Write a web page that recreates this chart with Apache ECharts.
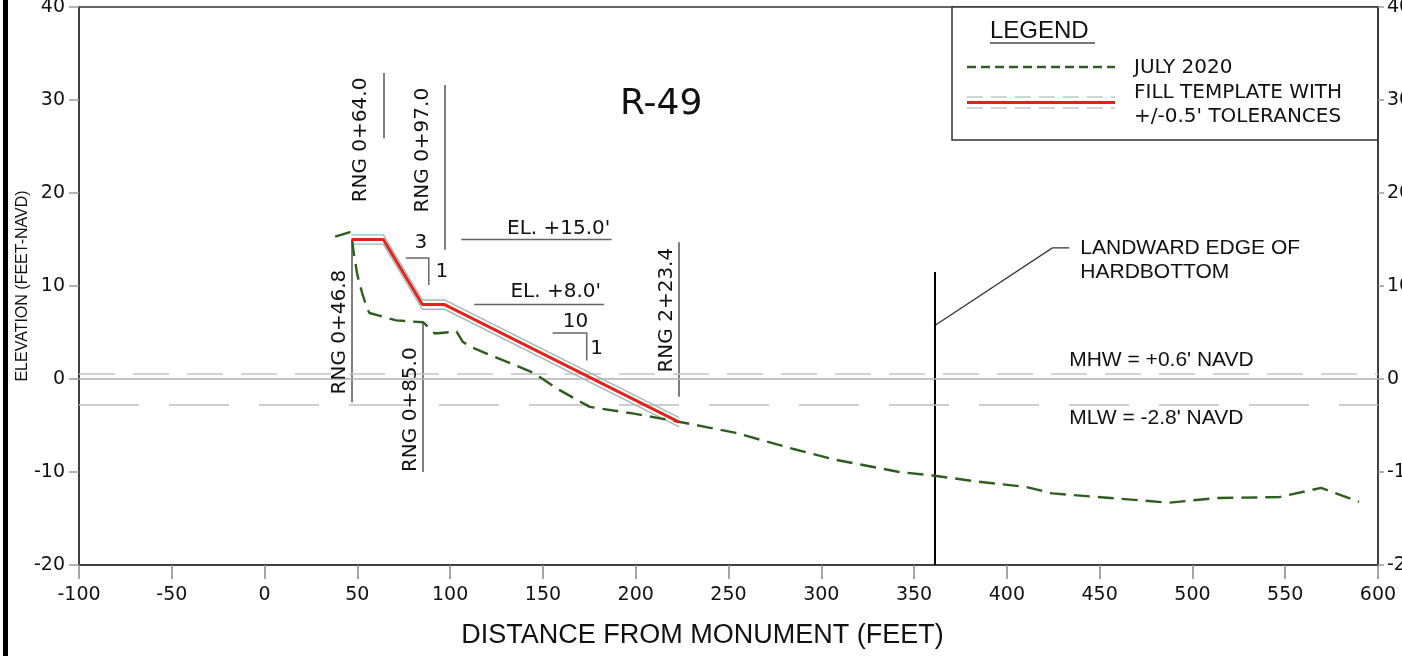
<!DOCTYPE html>
<html><head><meta charset="utf-8">
<script src="https://cdn.jsdelivr.net/npm/echarts@6/dist/echarts.min.js"></script>
<style>html,body{margin:0;padding:0;background:#fff}#c{width:1402px;height:656px}</style>
</head><body><div id="c"></div>
<script>
// ---------- DATA ----------
const xTickValues = [-100,-50,0,50,100,150,200,250,300,350,400,450,500,550,600];
const yTickValues = [-20,-10,0,10,20,30,40];
const profileX = [38,46,47.3,48,50,52.5,55,56.5,71,85.5,91.7,103.5,106.8,110.5,121.3,144.5,159,175.2,198.3,226,254,284.5,308,342,361,383,410,424.5,487.5,512.8,546.7,569.4,589.8];
const profileY = [15.3,15.8,14.8,13.6,11.2,9.3,7.7,7.1,6.3,6.1,4.9,5.1,4.0,3.5,2.6,0.7,-1.2,-3.0,-3.7,-4.7,-5.8,-7.5,-8.7,-10.0,-10.4,-11.0,-11.6,-12.3,-13.3,-12.8,-12.7,-11.7,-13.2];
const templateX = [46.8,64,85,97,223.4];
const templateY = [15,15,8,8,-4.64];
const templateUpperY = [15.5,15.5,8.5,8.5,-4.14];
const templateLowerY = [14.5,14.5,7.5,7.5,-5.14];
const rangeStations = [46.8,64.0,85.0,97.0,223.4];
const rangeLabels = ['RNG 0+46.8','RNG 0+64.0','RNG 0+85.0','RNG 0+97.0','RNG 2+23.4'];
const rangeTop = [15,32.9,6.1,31.6,14.7];
const rangeBottom = [-2.5,25.9,-10,13.9,-1.9];
const elevLabels = ["EL. +15.0'","EL. +8.0'"];
const elevValues = [15,8];
const mhwValue = 0.6;
const mlwValue = -2.8;
const hardbottomX = 361;
const legendNames = ['JULY 2020',"FILL TEMPLATE WITH\n+/-0.5' TOLERANCES"];

// ---------- LAYOUT / ANNOTATION CONFIG ----------
const rangeLabelPos = [[40.3,5.05],[51.7,25.7],[78.8,-3.3],[85.3,24.6],[216.7,7.4]];
const elevLeaderX = [[106,187],[113,183]];
const elevLabelPos = [[158.5,16.2],[156.9,9.35]];
const slopeSymbols = [
  {pts:[[76.1,13.0],[88.5,13.0],[88.5,10.1]], run:'3', runPos:[84.2,14.6], rise:'1', risePos:[95.5,11.5]},
  {pts:[[155.2,4.95],[173.6,4.95],[173.6,2.0]], run:'10', runPos:[167.6,6.1], rise:'1', risePos:[178.9,3.2]}
];
const hardbottomTop = 11.5;
const arrowPath = [[433.6,14.1],[424.5,14.1],[361.6,5.8]];

const DJ = 'DejaVu Sans';
const LS = 'Liberation Sans';
const TXT = '#111';

function pairs(xs, ys){ return xs.map((x,i)=>[x, ys[i]]); }

const annotations = [];
rangeLabels.forEach((t,i)=>annotations.push({value:rangeLabelPos[i], label:{formatter:t, rotate:90, fontSize:20, fontFamily:DJ}}));
elevLabels.forEach((t,i)=>annotations.push({value:elevLabelPos[i], label:{formatter:t, fontSize:20, fontFamily:DJ}}));
slopeSymbols.forEach(s=>{
  annotations.push({value:s.runPos, label:{formatter:s.run, fontSize:20, fontFamily:DJ}});
  annotations.push({value:s.risePos, label:{formatter:s.rise, fontSize:20, fontFamily:DJ}});
});
annotations.push({value:[213.7,29.5], label:{formatter:'R-49', fontSize:36, fontFamily:DJ}});
annotations.push({value:[439.6,12.8], label:{formatter:'LANDWARD EDGE OF\nHARDBOTTOM', fontSize:21, fontFamily:LS, align:'left', lineHeight:24}});
annotations.push({value:[433.6,2.04], label:{formatter:"MHW = +0.6' NAVD", fontSize:21, fontFamily:LS, align:'left'}});
annotations.push({value:[433.6,-4.2], label:{formatter:"MLW = -2.8' NAVD", fontSize:21, fontFamily:LS, align:'left'}});

const chart = echarts.init(document.getElementById('c'), null, {renderer:'canvas'});

const yAxisBase = {
  type:'value', min:-20, max:40, interval:10,
  splitLine:{show:false},
  axisLine:{show:true, onZero:false, lineStyle:{color:'#333', width:1.5}},
  axisTick:{show:true, length:10, lineStyle:{color:'#999', width:1.5}},
  axisLabel:{color:TXT, fontFamily:DJ, fontSize:19, margin:14, formatter: v=>String(v)}
};

const option = {
  animation:false,
  backgroundColor:'#fff',
  grid:{left:79, right:24, top:7, bottom:91, show:true, borderColor:'#333', borderWidth:1.5,
        backgroundColor:'transparent', containLabel:false, outerBoundsMode:'none'},
  xAxis:{
    type:'value', min:-100, max:600, interval:50,
    splitLine:{show:false},
    axisLine:{show:true, onZero:false, lineStyle:{color:'#333', width:1.5}},
    axisTick:{show:true, length:14, lineStyle:{color:'#888', width:1.5}},
    axisLabel:{color:TXT, fontFamily:DJ, fontSize:19, margin:21, formatter:v=>String(v)},
    name:'DISTANCE FROM MONUMENT (FEET)', nameLocation:'middle', nameGap:57, nameMoveOverlap:false,
    nameTextStyle:{color:TXT, fontFamily:LS, fontSize:27, padding:[0,52,0,0]}
  },
  yAxis:[
    Object.assign({}, yAxisBase, {position:'left',
      name:'ELEVATION (FEET-NAVD)', nameLocation:'middle', nameGap:48, nameMoveOverlap:false,
      nameTextStyle:{color:TXT, fontFamily:LS, fontSize:16}}),
    Object.assign({}, yAxisBase, {position:'right',
      axisTick:{show:true, length:6, lineStyle:{color:'#999', width:1.5}},
      axisLabel:Object.assign({}, yAxisBase.axisLabel, {margin:9})})
  ],
  series:[
    { // water level reference lines
      type:'line', data:[], silent:true,
      markLine:{silent:true, symbol:'none', label:{show:false},
        data:[
          {yAxis:0, lineStyle:{color:'#b0b0b0', width:1.6, type:'solid'}},
          {yAxis:mhwValue, lineStyle:{color:'#c4c4c4', width:1.5, type:[36,18]}},
          {yAxis:mlwValue, lineStyle:{color:'#c0c0c0', width:1.5, type:[60,30]}}
        ]}
    },
    { // range lines
      type:'lines', coordinateSystem:'cartesian2d', silent:true, z:3,
      lineStyle:{color:'#555', width:1.5, opacity:1},
      data: rangeStations.map((x,i)=>({coords:[[x,rangeBottom[i]],[x,rangeTop[i]]]}))
    },
    { // elevation leaders and slope symbols
      type:'lines', coordinateSystem:'cartesian2d', polyline:true, silent:true, z:3,
      lineStyle:{color:'#666', width:1.5, opacity:1},
      data: elevValues.map((v,i)=>({coords:[[elevLeaderX[i][0],v],[elevLeaderX[i][1],v]]}))
            .concat(slopeSymbols.map(s=>({coords:s.pts})))
    },
    { // hardbottom line
      type:'lines', coordinateSystem:'cartesian2d', silent:true, z:4,
      lineStyle:{color:'#000', width:2, opacity:1},
      data:[{coords:[[hardbottomX,hardbottomTop],[hardbottomX,-20]]}]
    },
    { // arrow leader
      type:'lines', coordinateSystem:'cartesian2d', polyline:true, silent:true, z:4,
      symbol:['none','arrow'], symbolSize:13,
      lineStyle:{color:'#333', width:1.3, opacity:1},
      itemStyle:{color:'#000'},
      data:[{coords:arrowPath}]
    },
    {
      name:'tolerance upper', type:'line', data:pairs(templateX, templateUpperY), showSymbol:false, silent:true, z:5,
      lineStyle:{color:'#a6b6b6', width:1.4}
    },
    {
      name:'tolerance lower', type:'line', data:pairs(templateX, templateLowerY), showSymbol:false, silent:true, z:5,
      lineStyle:{color:'#a6b6b6', width:1.4}
    },
    {
      name:legendNames[0], type:'line', data:pairs(profileX, profileY), showSymbol:false, silent:true, z:6,
      lineStyle:{color:'#2d5e1e', width:2.4, type:[16,8]}
    },
    {
      name:legendNames[1], type:'line', data:pairs(templateX, templateY), showSymbol:false, silent:true, z:7,
      lineStyle:{color:'#e3231b', width:3}
    },
    {
      type:'scatter', silent:true, z:10, symbol:'circle', symbolSize:1,
      itemStyle:{color:'rgba(0,0,0,0)', opacity:1},
      label:{show:true, position:'inside', color:TXT, opacity:1, align:'center', verticalAlign:'middle'},
      data: annotations
    }
  ],
  graphic:[
    {type:'rect', shape:{x:3, y:0, width:5, height:656}, style:{fill:'#000'}},
    {type:'group', z:20, children:[
      {type:'rect', shape:{x:952, y:7, width:426, height:133}, style:{fill:'#fff', stroke:'#333', lineWidth:1.5}},
      {type:'text', x:990, y:31, style:{text:'LEGEND', fill:TXT, font:'24px "Liberation Sans"', textVerticalAlign:'middle'}},
      {type:'line', shape:{x1:990, y1:43, x2:1095, y2:43}, style:{stroke:'#777', lineWidth:2}},
      {type:'line', shape:{x1:967, y1:67, x2:1115, y2:67}, style:{stroke:'#2d5e1e', lineWidth:2.4, lineDash:[9,5]}},
      {type:'line', shape:{x1:967, y1:97, x2:1115, y2:97}, style:{stroke:'#aaa', lineWidth:1.2, lineDash:[16,8]}},
      {type:'line', shape:{x1:967, y1:108, x2:1115, y2:108}, style:{stroke:'#aaa', lineWidth:1.2, lineDash:[16,8]}},
      {type:'line', shape:{x1:967, y1:102.5, x2:1115, y2:102.5}, style:{stroke:'#e3231b', lineWidth:3}},
      {type:'text', x:1134, y:68, style:{text:legendNames[0], fill:TXT, font:'20px "DejaVu Sans"', textVerticalAlign:'middle'}},
      {type:'text', x:1134, y:105, style:{text:legendNames[1], fill:TXT, font:'20px "DejaVu Sans"', textVerticalAlign:'middle', lineHeight:24}}
    ]}
  ]
};
chart.setOption(option);
</script>
</body></html>
